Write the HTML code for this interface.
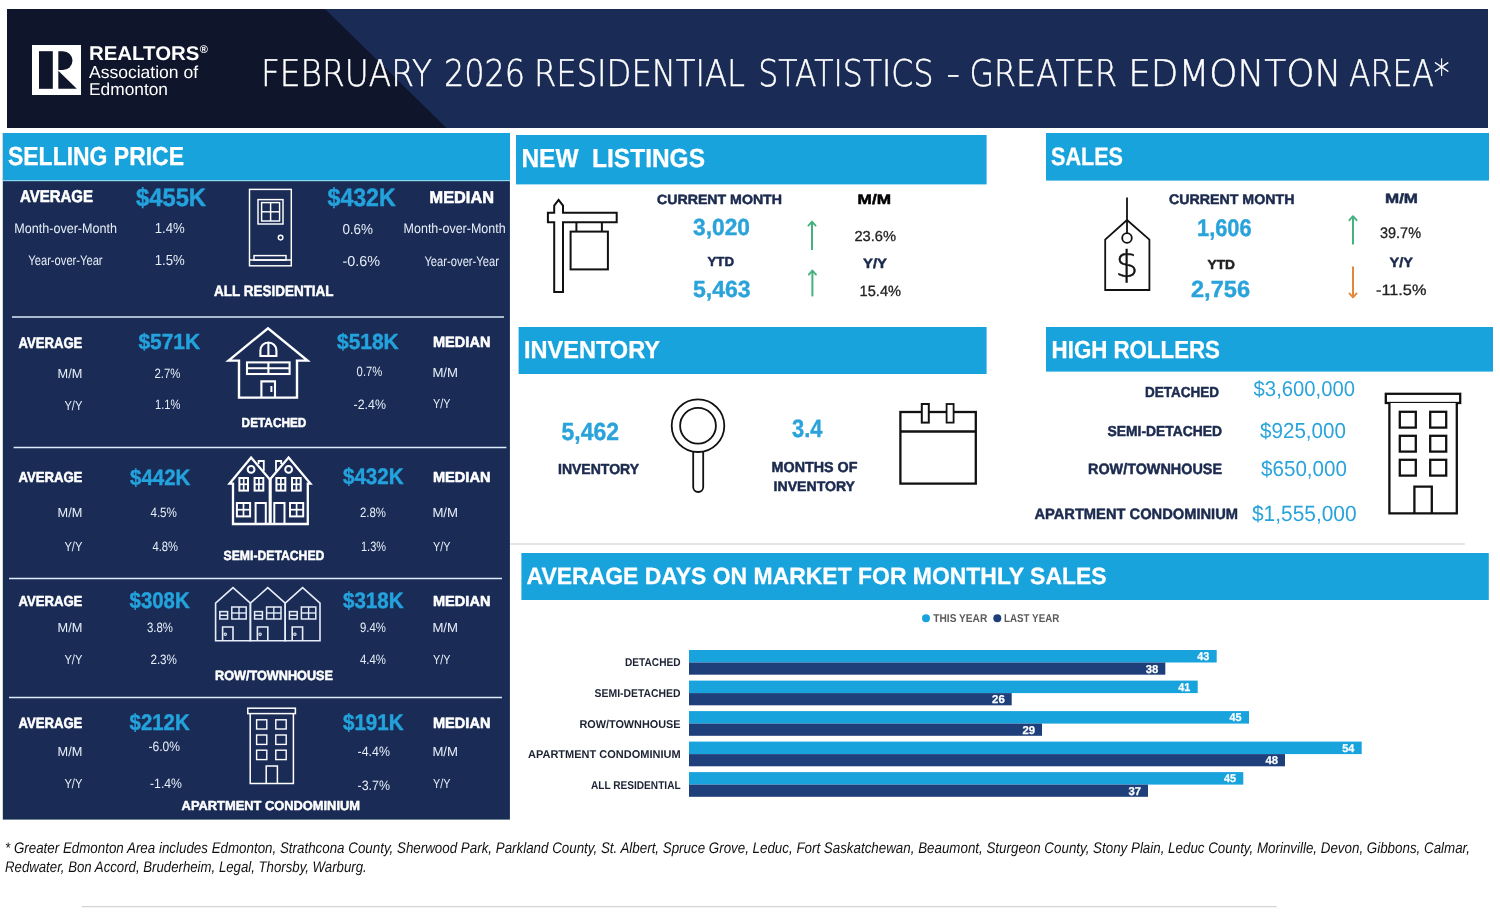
<!DOCTYPE html>
<html lang="en">
<head>
<meta charset="utf-8">
<title>February 2026 Residential Statistics - Greater Edmonton Area</title>
<style>
html,body{margin:0;padding:0;background:#fff;}
body{width:1500px;height:920px;overflow:hidden;font-family:'Liberation Sans',Arial,sans-serif;}
svg{display:block;}
text{white-space:pre;}
</style>
</head>
<body>
<svg width="1500" height="920" viewBox="0 0 1500 920" text-rendering="geometricPrecision">
<rect x="0" y="0" width="1500" height="920" fill="#ffffff"/>
<g id="header">
<rect x="7.0" y="9.0" width="1481.0" height="119.0" fill="#1a2c56"/>
<polygon points="7,9 325,9 446.5,128 7,128" fill="#0f152b"/>
<rect x="32.0" y="45.0" width="49.0" height="50.0" fill="#fff"/>
<rect x="39.0" y="51.2" width="13.8" height="37.6" fill="#0f152b"/>
<path d="M58.3,51.2 H63 A9.5,9.4 0 0 1 63,70 H58.3 Z" fill="#0f152b"/>
<polygon points="58.3,70.8 58.3,88.8 76.8,88.8" fill="#0f152b"/>
<text x="89.0" y="59.5" font-family="'Liberation Sans', Arial, Helvetica, sans-serif" font-size="19.86" font-weight="bold" fill="#fff" textLength="110.4" lengthAdjust="spacingAndGlyphs">REALTORS</text>
<text x="199.8" y="53.4" font-family="'Liberation Sans', Arial, Helvetica, sans-serif" font-size="11" font-weight="bold" fill="#fff">®</text>
<text x="89.0" y="78.0" font-family="'Liberation Sans', Arial, Helvetica, sans-serif" font-size="17.39" font-weight="normal" fill="#fff" textLength="109.0" lengthAdjust="spacingAndGlyphs">Association of</text>
<text x="89.0" y="95.0" font-family="'Liberation Sans', Arial, Helvetica, sans-serif" font-size="17.10" font-weight="normal" fill="#fff" textLength="79.0" lengthAdjust="spacingAndGlyphs">Edmonton</text>
<text y="85.5" font-family="'DejaVu Sans Light', 'DejaVu Sans', 'Liberation Sans', sans-serif" font-size="36.85" font-weight="200" fill="#fff" stroke="#fff" stroke-width="0.45"><tspan x="260.9" textLength="171.1" lengthAdjust="spacingAndGlyphs">FEBRUARY</tspan> <tspan x="443.9" textLength="81.2" lengthAdjust="spacingAndGlyphs">2026</tspan> <tspan x="533.9" textLength="211.1" lengthAdjust="spacingAndGlyphs">RESIDENTIAL</tspan> <tspan x="758.3" textLength="175.1" lengthAdjust="spacingAndGlyphs">STATISTICS</tspan> <tspan x="946.4" textLength="13.5" lengthAdjust="spacingAndGlyphs">-</tspan> <tspan x="969.4" textLength="147.7" lengthAdjust="spacingAndGlyphs">GREATER</tspan> <tspan x="1128.2" textLength="213.0" lengthAdjust="spacingAndGlyphs">EDMONTON</tspan> <tspan x="1349.0" textLength="100.6" lengthAdjust="spacingAndGlyphs">AREA*</tspan></text>
</g>
<g id="selling">
<rect x="2.8" y="133.0" width="507.1" height="686.6" fill="#123450"/>
<rect x="3.6" y="181.4" width="505.6" height="637.4" fill="#1a2c56"/>
<rect x="3.0" y="133.0" width="507.0" height="48.2" fill="#8fd6f1"/>
<rect x="3.0" y="133.0" width="507.0" height="47.0" fill="#18a3dd"/>
<text x="8.0" y="164.7" font-family="'Liberation Sans', Arial, Helvetica, sans-serif" font-size="26.09" font-weight="bold" fill="#fff" textLength="176.0" lengthAdjust="spacingAndGlyphs" stroke="#fff" stroke-width="0.3" stroke-linejoin="round">SELLING PRICE</text>
<line x1="12.0" y1="317.0" x2="504.0" y2="317.0" stroke="#dcebf9" stroke-width="1.5"/>
<line x1="13.6" y1="447.6" x2="506.4" y2="447.6" stroke="#dcebf9" stroke-width="1.5"/>
<line x1="9.0" y1="578.4" x2="502.0" y2="578.4" stroke="#dcebf9" stroke-width="1.5"/>
<line x1="9.0" y1="697.4" x2="502.0" y2="697.4" stroke="#dcebf9" stroke-width="1.5"/>
<text x="20.0" y="202.2" font-family="'Liberation Sans', Arial, Helvetica, sans-serif" font-size="17.10" font-weight="bold" fill="#fff" textLength="73.0" lengthAdjust="spacingAndGlyphs" stroke="#fff" stroke-width="0.6" stroke-linejoin="round">AVERAGE</text>
<text x="136.0" y="205.6" font-family="'Liberation Sans', Arial, Helvetica, sans-serif" font-size="25.22" font-weight="bold" fill="#24a2dc" textLength="70.0" lengthAdjust="spacingAndGlyphs" stroke="#24a2dc" stroke-width="0.5" stroke-linejoin="round">$455K</text>
<text x="14.3" y="232.6" font-family="'Liberation Sans', Arial, Helvetica, sans-serif" font-size="13.91" font-weight="normal" fill="#e8eef8" textLength="102.7" lengthAdjust="spacingAndGlyphs">Month-over-Month</text>
<text x="154.8" y="232.6" font-family="'Liberation Sans', Arial, Helvetica, sans-serif" font-size="14.49" font-weight="normal" fill="#e8eef8" textLength="30.0" lengthAdjust="spacingAndGlyphs">1.4%</text>
<text x="28.3" y="265.2" font-family="'Liberation Sans', Arial, Helvetica, sans-serif" font-size="13.91" font-weight="normal" fill="#e8eef8" textLength="74.3" lengthAdjust="spacingAndGlyphs">Year-over-Year</text>
<text x="154.8" y="265.2" font-family="'Liberation Sans', Arial, Helvetica, sans-serif" font-size="14.49" font-weight="normal" fill="#e8eef8" textLength="30.0" lengthAdjust="spacingAndGlyphs">1.5%</text>
<text x="327.6" y="205.6" font-family="'Liberation Sans', Arial, Helvetica, sans-serif" font-size="25.22" font-weight="bold" fill="#24a2dc" textLength="68.0" lengthAdjust="spacingAndGlyphs" stroke="#24a2dc" stroke-width="0.5" stroke-linejoin="round">$432K</text>
<text x="429.6" y="203.0" font-family="'Liberation Sans', Arial, Helvetica, sans-serif" font-size="17.10" font-weight="bold" fill="#fff" textLength="64.4" lengthAdjust="spacingAndGlyphs" stroke="#fff" stroke-width="0.6" stroke-linejoin="round">MEDIAN</text>
<text x="342.4" y="234.0" font-family="'Liberation Sans', Arial, Helvetica, sans-serif" font-size="14.49" font-weight="normal" fill="#e8eef8" textLength="30.6" lengthAdjust="spacingAndGlyphs">0.6%</text>
<text x="403.6" y="233.0" font-family="'Liberation Sans', Arial, Helvetica, sans-serif" font-size="13.91" font-weight="normal" fill="#e8eef8" textLength="102.0" lengthAdjust="spacingAndGlyphs">Month-over-Month</text>
<text x="342.4" y="266.4" font-family="'Liberation Sans', Arial, Helvetica, sans-serif" font-size="14.49" font-weight="normal" fill="#e8eef8" textLength="37.6" lengthAdjust="spacingAndGlyphs">-0.6%</text>
<text x="424.4" y="265.6" font-family="'Liberation Sans', Arial, Helvetica, sans-serif" font-size="13.91" font-weight="normal" fill="#e8eef8" textLength="74.6" lengthAdjust="spacingAndGlyphs">Year-over-Year</text>
<text x="214.0" y="296.0" font-family="'Liberation Sans', Arial, Helvetica, sans-serif" font-size="15.07" font-weight="bold" fill="#fff" textLength="119.6" lengthAdjust="spacingAndGlyphs" stroke="#fff" stroke-width="0.5" stroke-linejoin="round">ALL RESIDENTIAL</text>
<text x="18.4" y="348.0" font-family="'Liberation Sans', Arial, Helvetica, sans-serif" font-size="15.07" font-weight="bold" fill="#fff" textLength="64.0" lengthAdjust="spacingAndGlyphs" stroke="#fff" stroke-width="0.55" stroke-linejoin="round">AVERAGE</text>
<text x="138.4" y="349.0" font-family="'Liberation Sans', Arial, Helvetica, sans-serif" font-size="21.74" font-weight="bold" fill="#24a2dc" textLength="61.6" lengthAdjust="spacingAndGlyphs" stroke="#24a2dc" stroke-width="0.45" stroke-linejoin="round">$571K</text>
<text x="57.6" y="378.4" font-family="'Liberation Sans', Arial, Helvetica, sans-serif" font-size="13.04" font-weight="normal" fill="#e8eef8" textLength="24.8" lengthAdjust="spacingAndGlyphs">M/M</text>
<text x="154.4" y="378.0" font-family="'Liberation Sans', Arial, Helvetica, sans-serif" font-size="13.62" font-weight="normal" fill="#e8eef8" textLength="26.0" lengthAdjust="spacingAndGlyphs">2.7%</text>
<text x="64.4" y="409.6" font-family="'Liberation Sans', Arial, Helvetica, sans-serif" font-size="13.04" font-weight="normal" fill="#e8eef8" textLength="18.0" lengthAdjust="spacingAndGlyphs">Y/Y</text>
<text x="155.0" y="409.0" font-family="'Liberation Sans', Arial, Helvetica, sans-serif" font-size="13.62" font-weight="normal" fill="#e8eef8" textLength="25.4" lengthAdjust="spacingAndGlyphs">1.1%</text>
<text x="337.0" y="349.0" font-family="'Liberation Sans', Arial, Helvetica, sans-serif" font-size="21.74" font-weight="bold" fill="#24a2dc" textLength="61.6" lengthAdjust="spacingAndGlyphs" stroke="#24a2dc" stroke-width="0.45" stroke-linejoin="round">$518K</text>
<text x="433.0" y="347.2" font-family="'Liberation Sans', Arial, Helvetica, sans-serif" font-size="14.78" font-weight="bold" fill="#fff" textLength="57.4" lengthAdjust="spacingAndGlyphs" stroke="#fff" stroke-width="0.55" stroke-linejoin="round">MEDIAN</text>
<text x="356.6" y="376.0" font-family="'Liberation Sans', Arial, Helvetica, sans-serif" font-size="13.62" font-weight="normal" fill="#e8eef8" textLength="25.8" lengthAdjust="spacingAndGlyphs">0.7%</text>
<text x="432.4" y="377.0" font-family="'Liberation Sans', Arial, Helvetica, sans-serif" font-size="13.04" font-weight="normal" fill="#e8eef8" textLength="25.6" lengthAdjust="spacingAndGlyphs">M/M</text>
<text x="353.6" y="408.6" font-family="'Liberation Sans', Arial, Helvetica, sans-serif" font-size="13.62" font-weight="normal" fill="#e8eef8" textLength="32.4" lengthAdjust="spacingAndGlyphs">-2.4%</text>
<text x="433.0" y="407.6" font-family="'Liberation Sans', Arial, Helvetica, sans-serif" font-size="13.04" font-weight="normal" fill="#e8eef8" textLength="17.4" lengthAdjust="spacingAndGlyphs">Y/Y</text>
<text x="241.6" y="426.6" font-family="'Liberation Sans', Arial, Helvetica, sans-serif" font-size="13.04" font-weight="bold" fill="#fff" textLength="64.8" lengthAdjust="spacingAndGlyphs" stroke="#fff" stroke-width="0.5" stroke-linejoin="round">DETACHED</text>
<text x="18.4" y="482.0" font-family="'Liberation Sans', Arial, Helvetica, sans-serif" font-size="14.49" font-weight="bold" fill="#fff" textLength="64.0" lengthAdjust="spacingAndGlyphs" stroke="#fff" stroke-width="0.55" stroke-linejoin="round">AVERAGE</text>
<text x="130.0" y="485.0" font-family="'Liberation Sans', Arial, Helvetica, sans-serif" font-size="22.32" font-weight="bold" fill="#24a2dc" textLength="60.4" lengthAdjust="spacingAndGlyphs" stroke="#24a2dc" stroke-width="0.45" stroke-linejoin="round">$442K</text>
<text x="57.6" y="517.0" font-family="'Liberation Sans', Arial, Helvetica, sans-serif" font-size="13.04" font-weight="normal" fill="#e8eef8" textLength="24.8" lengthAdjust="spacingAndGlyphs">M/M</text>
<text x="150.4" y="517.0" font-family="'Liberation Sans', Arial, Helvetica, sans-serif" font-size="13.62" font-weight="normal" fill="#e8eef8" textLength="26.6" lengthAdjust="spacingAndGlyphs">4.5%</text>
<text x="64.4" y="551.0" font-family="'Liberation Sans', Arial, Helvetica, sans-serif" font-size="13.04" font-weight="normal" fill="#e8eef8" textLength="18.0" lengthAdjust="spacingAndGlyphs">Y/Y</text>
<text x="152.4" y="551.0" font-family="'Liberation Sans', Arial, Helvetica, sans-serif" font-size="13.62" font-weight="normal" fill="#e8eef8" textLength="25.6" lengthAdjust="spacingAndGlyphs">4.8%</text>
<text x="343.0" y="483.6" font-family="'Liberation Sans', Arial, Helvetica, sans-serif" font-size="22.61" font-weight="bold" fill="#24a2dc" textLength="60.6" lengthAdjust="spacingAndGlyphs" stroke="#24a2dc" stroke-width="0.45" stroke-linejoin="round">$432K</text>
<text x="433.0" y="482.0" font-family="'Liberation Sans', Arial, Helvetica, sans-serif" font-size="14.49" font-weight="bold" fill="#fff" textLength="57.4" lengthAdjust="spacingAndGlyphs" stroke="#fff" stroke-width="0.55" stroke-linejoin="round">MEDIAN</text>
<text x="360.0" y="517.0" font-family="'Liberation Sans', Arial, Helvetica, sans-serif" font-size="13.62" font-weight="normal" fill="#e8eef8" textLength="26.0" lengthAdjust="spacingAndGlyphs">2.8%</text>
<text x="432.4" y="517.0" font-family="'Liberation Sans', Arial, Helvetica, sans-serif" font-size="13.04" font-weight="normal" fill="#e8eef8" textLength="25.6" lengthAdjust="spacingAndGlyphs">M/M</text>
<text x="361.0" y="551.0" font-family="'Liberation Sans', Arial, Helvetica, sans-serif" font-size="13.62" font-weight="normal" fill="#e8eef8" textLength="25.0" lengthAdjust="spacingAndGlyphs">1.3%</text>
<text x="433.0" y="551.0" font-family="'Liberation Sans', Arial, Helvetica, sans-serif" font-size="13.04" font-weight="normal" fill="#e8eef8" textLength="17.4" lengthAdjust="spacingAndGlyphs">Y/Y</text>
<text x="223.6" y="559.8" font-family="'Liberation Sans', Arial, Helvetica, sans-serif" font-size="13.33" font-weight="bold" fill="#fff" textLength="100.8" lengthAdjust="spacingAndGlyphs" stroke="#fff" stroke-width="0.5" stroke-linejoin="round">SEMI-DETACHED</text>
<text x="18.4" y="606.0" font-family="'Liberation Sans', Arial, Helvetica, sans-serif" font-size="14.49" font-weight="bold" fill="#fff" textLength="64.0" lengthAdjust="spacingAndGlyphs" stroke="#fff" stroke-width="0.55" stroke-linejoin="round">AVERAGE</text>
<text x="129.6" y="607.6" font-family="'Liberation Sans', Arial, Helvetica, sans-serif" font-size="22.61" font-weight="bold" fill="#24a2dc" textLength="60.0" lengthAdjust="spacingAndGlyphs" stroke="#24a2dc" stroke-width="0.45" stroke-linejoin="round">$308K</text>
<text x="57.6" y="632.4" font-family="'Liberation Sans', Arial, Helvetica, sans-serif" font-size="13.04" font-weight="normal" fill="#e8eef8" textLength="24.8" lengthAdjust="spacingAndGlyphs">M/M</text>
<text x="147.0" y="632.4" font-family="'Liberation Sans', Arial, Helvetica, sans-serif" font-size="13.62" font-weight="normal" fill="#e8eef8" textLength="26.0" lengthAdjust="spacingAndGlyphs">3.8%</text>
<text x="64.4" y="664.0" font-family="'Liberation Sans', Arial, Helvetica, sans-serif" font-size="13.04" font-weight="normal" fill="#e8eef8" textLength="18.0" lengthAdjust="spacingAndGlyphs">Y/Y</text>
<text x="150.4" y="664.4" font-family="'Liberation Sans', Arial, Helvetica, sans-serif" font-size="13.62" font-weight="normal" fill="#e8eef8" textLength="26.6" lengthAdjust="spacingAndGlyphs">2.3%</text>
<text x="343.0" y="608.4" font-family="'Liberation Sans', Arial, Helvetica, sans-serif" font-size="22.32" font-weight="bold" fill="#24a2dc" textLength="60.6" lengthAdjust="spacingAndGlyphs" stroke="#24a2dc" stroke-width="0.45" stroke-linejoin="round">$318K</text>
<text x="433.0" y="606.0" font-family="'Liberation Sans', Arial, Helvetica, sans-serif" font-size="14.49" font-weight="bold" fill="#fff" textLength="57.4" lengthAdjust="spacingAndGlyphs" stroke="#fff" stroke-width="0.55" stroke-linejoin="round">MEDIAN</text>
<text x="360.0" y="632.4" font-family="'Liberation Sans', Arial, Helvetica, sans-serif" font-size="13.62" font-weight="normal" fill="#e8eef8" textLength="26.0" lengthAdjust="spacingAndGlyphs">9.4%</text>
<text x="432.4" y="632.4" font-family="'Liberation Sans', Arial, Helvetica, sans-serif" font-size="13.04" font-weight="normal" fill="#e8eef8" textLength="25.6" lengthAdjust="spacingAndGlyphs">M/M</text>
<text x="360.0" y="664.0" font-family="'Liberation Sans', Arial, Helvetica, sans-serif" font-size="13.62" font-weight="normal" fill="#e8eef8" textLength="26.0" lengthAdjust="spacingAndGlyphs">4.4%</text>
<text x="433.0" y="664.0" font-family="'Liberation Sans', Arial, Helvetica, sans-serif" font-size="13.04" font-weight="normal" fill="#e8eef8" textLength="17.4" lengthAdjust="spacingAndGlyphs">Y/Y</text>
<text x="215.0" y="680.0" font-family="'Liberation Sans', Arial, Helvetica, sans-serif" font-size="13.33" font-weight="bold" fill="#fff" textLength="118.0" lengthAdjust="spacingAndGlyphs" stroke="#fff" stroke-width="0.5" stroke-linejoin="round">ROW/TOWNHOUSE</text>
<text x="18.4" y="728.2" font-family="'Liberation Sans', Arial, Helvetica, sans-serif" font-size="14.78" font-weight="bold" fill="#fff" textLength="64.0" lengthAdjust="spacingAndGlyphs" stroke="#fff" stroke-width="0.55" stroke-linejoin="round">AVERAGE</text>
<text x="129.6" y="729.6" font-family="'Liberation Sans', Arial, Helvetica, sans-serif" font-size="22.61" font-weight="bold" fill="#24a2dc" textLength="60.0" lengthAdjust="spacingAndGlyphs" stroke="#24a2dc" stroke-width="0.45" stroke-linejoin="round">$212K</text>
<text x="57.6" y="756.0" font-family="'Liberation Sans', Arial, Helvetica, sans-serif" font-size="13.04" font-weight="normal" fill="#e8eef8" textLength="24.8" lengthAdjust="spacingAndGlyphs">M/M</text>
<text x="148.4" y="751.0" font-family="'Liberation Sans', Arial, Helvetica, sans-serif" font-size="13.62" font-weight="normal" fill="#e8eef8" textLength="31.6" lengthAdjust="spacingAndGlyphs">-6.0%</text>
<text x="64.4" y="788.4" font-family="'Liberation Sans', Arial, Helvetica, sans-serif" font-size="13.04" font-weight="normal" fill="#e8eef8" textLength="18.0" lengthAdjust="spacingAndGlyphs">Y/Y</text>
<text x="150.0" y="788.0" font-family="'Liberation Sans', Arial, Helvetica, sans-serif" font-size="13.62" font-weight="normal" fill="#e8eef8" textLength="32.0" lengthAdjust="spacingAndGlyphs">-1.4%</text>
<text x="343.0" y="729.6" font-family="'Liberation Sans', Arial, Helvetica, sans-serif" font-size="22.61" font-weight="bold" fill="#24a2dc" textLength="60.6" lengthAdjust="spacingAndGlyphs" stroke="#24a2dc" stroke-width="0.45" stroke-linejoin="round">$191K</text>
<text x="433.0" y="728.2" font-family="'Liberation Sans', Arial, Helvetica, sans-serif" font-size="14.78" font-weight="bold" fill="#fff" textLength="57.4" lengthAdjust="spacingAndGlyphs" stroke="#fff" stroke-width="0.55" stroke-linejoin="round">MEDIAN</text>
<text x="357.6" y="755.6" font-family="'Liberation Sans', Arial, Helvetica, sans-serif" font-size="13.62" font-weight="normal" fill="#e8eef8" textLength="32.4" lengthAdjust="spacingAndGlyphs">-4.4%</text>
<text x="432.4" y="756.0" font-family="'Liberation Sans', Arial, Helvetica, sans-serif" font-size="13.04" font-weight="normal" fill="#e8eef8" textLength="25.6" lengthAdjust="spacingAndGlyphs">M/M</text>
<text x="357.6" y="789.6" font-family="'Liberation Sans', Arial, Helvetica, sans-serif" font-size="13.62" font-weight="normal" fill="#e8eef8" textLength="32.4" lengthAdjust="spacingAndGlyphs">-3.7%</text>
<text x="433.0" y="787.6" font-family="'Liberation Sans', Arial, Helvetica, sans-serif" font-size="13.04" font-weight="normal" fill="#e8eef8" textLength="17.4" lengthAdjust="spacingAndGlyphs">Y/Y</text>
<text x="181.6" y="810.4" font-family="'Liberation Sans', Arial, Helvetica, sans-serif" font-size="13.04" font-weight="bold" fill="#fff" textLength="178.4" lengthAdjust="spacingAndGlyphs" stroke="#fff" stroke-width="0.5" stroke-linejoin="round">APARTMENT CONDOMINIUM</text>
<g id="icon-door">
<rect x="249.5" y="189.4" width="41.8" height="76.4" fill="none" stroke="#ffffff" stroke-width="1.45"/>
<line x1="249.5" y1="260.0" x2="291.3" y2="260.0" stroke="#ffffff" stroke-width="1.45"/>
<rect x="254.0" y="255.6" width="32.0" height="4.4" fill="none" stroke="#ffffff" stroke-width="1.45"/>
<rect x="258.0" y="199.6" width="25.0" height="24.4" fill="none" stroke="#ffffff" stroke-width="1.45"/>
<rect x="261.6" y="202.6" width="18.0" height="18.4" fill="none" stroke="#ffffff" stroke-width="1.45"/>
<line x1="270.6" y1="202.6" x2="270.6" y2="221.0" stroke="#ffffff" stroke-width="1.45"/>
<line x1="261.6" y1="211.8" x2="279.6" y2="211.8" stroke="#ffffff" stroke-width="1.45"/>
<circle cx="280.6" cy="237.6" r="2.3" fill="none" stroke="#ffffff" stroke-width="1.45"/>
</g>
<g id="icon-detached">
<path d="M228.5,360.6 L268,328.2 L307.5,360.6 H297 V397.6 H239 V360.6 Z" fill="none" stroke="#ffffff" stroke-width="2.4" stroke-linejoin="miter"/>
<path d="M260.4,356 V350.5 A8,8 0 0 1 276.4,350.5 V356 Z" fill="none" stroke="#ffffff" stroke-width="2.1"/>
<line x1="268.4" y1="343.0" x2="268.4" y2="356.0" stroke="#ffffff" stroke-width="2.1"/>
<rect x="247.0" y="362.4" width="42.6" height="11.6" fill="none" stroke="#ffffff" stroke-width="2.1"/>
<line x1="247.0" y1="368.2" x2="289.6" y2="368.2" stroke="#ffffff" stroke-width="2.1"/>
<line x1="268.4" y1="362.4" x2="268.4" y2="374.0" stroke="#ffffff" stroke-width="2.1"/>
<path d="M261.4,397.6 V381.4 H275 V397.6" fill="none" stroke="#ffffff" stroke-width="2.1"/>
<line x1="271.4" y1="386.0" x2="271.4" y2="392.0" stroke="#ffffff" stroke-width="2"/>
</g>
<g id="icon-semi">
<path d="M229.6,483.6 L251.1,457.6 L269.9,479.4 L288.6,457.6 L310.4,483.6 H307.8 V524 H233 V483.6 Z" fill="none" stroke="#ffffff" stroke-width="2.3"/>
<line x1="270.2" y1="479.0" x2="270.2" y2="524.0" stroke="#ffffff" stroke-width="3.1"/>
<path d="M258.6,464 V461 H263.8 V471" fill="none" stroke="#ffffff" stroke-width="1.8"/>
<path d="M281.2,464 V461 H276 V471" fill="none" stroke="#ffffff" stroke-width="1.8"/>
<circle cx="251.1" cy="469.4" r="3.4" fill="none" stroke="#ffffff" stroke-width="2"/>
<circle cx="288.6" cy="469.4" r="3.4" fill="none" stroke="#ffffff" stroke-width="2"/>
<rect x="239.4" y="478.0" width="8.6" height="12.6" fill="none" stroke="#ffffff" stroke-width="2"/>
<line x1="243.7" y1="478.0" x2="243.7" y2="490.6" stroke="#ffffff" stroke-width="1.7"/>
<line x1="239.4" y1="484.3" x2="248.0" y2="484.3" stroke="#ffffff" stroke-width="1.7"/>
<rect x="254.6" y="478.0" width="8.7" height="12.6" fill="none" stroke="#ffffff" stroke-width="2"/>
<line x1="258.9" y1="478.0" x2="258.9" y2="490.6" stroke="#ffffff" stroke-width="1.7"/>
<line x1="254.6" y1="484.3" x2="263.3" y2="484.3" stroke="#ffffff" stroke-width="1.7"/>
<rect x="276.4" y="478.0" width="8.9" height="12.6" fill="none" stroke="#ffffff" stroke-width="2"/>
<line x1="280.9" y1="478.0" x2="280.9" y2="490.6" stroke="#ffffff" stroke-width="1.7"/>
<line x1="276.4" y1="484.3" x2="285.3" y2="484.3" stroke="#ffffff" stroke-width="1.7"/>
<rect x="292.0" y="478.0" width="8.7" height="12.6" fill="none" stroke="#ffffff" stroke-width="2"/>
<line x1="296.4" y1="478.0" x2="296.4" y2="490.6" stroke="#ffffff" stroke-width="1.7"/>
<line x1="292.0" y1="484.3" x2="300.7" y2="484.3" stroke="#ffffff" stroke-width="1.7"/>
<rect x="236.9" y="503.0" width="13.2" height="13.4" fill="none" stroke="#ffffff" stroke-width="2"/>
<line x1="243.5" y1="503.0" x2="243.5" y2="516.4" stroke="#ffffff" stroke-width="1.7"/>
<line x1="236.9" y1="509.7" x2="250.1" y2="509.7" stroke="#ffffff" stroke-width="1.7"/>
<rect x="290.0" y="503.0" width="13.2" height="13.4" fill="none" stroke="#ffffff" stroke-width="2"/>
<line x1="296.6" y1="503.0" x2="296.6" y2="516.4" stroke="#ffffff" stroke-width="1.7"/>
<line x1="290.0" y1="509.7" x2="303.2" y2="509.7" stroke="#ffffff" stroke-width="1.7"/>
<path d="M255.6,524 V503 H265.8 V524" fill="none" stroke="#ffffff" stroke-width="2"/>
<path d="M274.3,524 V503 H284.5 V524" fill="none" stroke="#ffffff" stroke-width="2"/>
</g>
<g id="icon-row">
<path d="M215.6,640.8 V603.2 L233.0,587.6 L250.4,603.2 V640.8 Z" fill="none" stroke="#e6edf8" stroke-width="1.6"/>
<rect x="219.8" y="611.6" width="7.8" height="7.4" fill="none" stroke="#e6edf8" stroke-width="1.5"/>
<line x1="219.8" y1="615.3" x2="227.6" y2="615.3" stroke="#e6edf8" stroke-width="1.4"/>
<rect x="231.8" y="607.0" width="14.4" height="12.0" fill="none" stroke="#e6edf8" stroke-width="1.5"/>
<line x1="239.0" y1="607.0" x2="239.0" y2="619.0" stroke="#e6edf8" stroke-width="1.4"/>
<line x1="231.8" y1="613.0" x2="246.2" y2="613.0" stroke="#e6edf8" stroke-width="1.4"/>
<path d="M222.6,640.8 V627 H233.0 V640.8" fill="none" stroke="#e6edf8" stroke-width="1.6"/>
<circle cx="225.3" cy="634.2" r="1.2" fill="none" stroke="#e6edf8" stroke-width="1.1"/>
<path d="M250.4,640.8 V603.2 L267.8,587.6 L285.2,603.2 V640.8 Z" fill="none" stroke="#e6edf8" stroke-width="1.6"/>
<rect x="254.6" y="611.6" width="7.8" height="7.4" fill="none" stroke="#e6edf8" stroke-width="1.5"/>
<line x1="254.6" y1="615.3" x2="262.4" y2="615.3" stroke="#e6edf8" stroke-width="1.4"/>
<rect x="266.6" y="607.0" width="14.4" height="12.0" fill="none" stroke="#e6edf8" stroke-width="1.5"/>
<line x1="273.8" y1="607.0" x2="273.8" y2="619.0" stroke="#e6edf8" stroke-width="1.4"/>
<line x1="266.6" y1="613.0" x2="281.0" y2="613.0" stroke="#e6edf8" stroke-width="1.4"/>
<path d="M257.4,640.8 V627 H267.8 V640.8" fill="none" stroke="#e6edf8" stroke-width="1.6"/>
<circle cx="260.1" cy="634.2" r="1.2" fill="none" stroke="#e6edf8" stroke-width="1.1"/>
<path d="M285.2,640.8 V603.2 L302.6,587.6 L320.0,603.2 V640.8 Z" fill="none" stroke="#e6edf8" stroke-width="1.6"/>
<rect x="289.4" y="611.6" width="7.8" height="7.4" fill="none" stroke="#e6edf8" stroke-width="1.5"/>
<line x1="289.4" y1="615.3" x2="297.2" y2="615.3" stroke="#e6edf8" stroke-width="1.4"/>
<rect x="301.4" y="607.0" width="14.4" height="12.0" fill="none" stroke="#e6edf8" stroke-width="1.5"/>
<line x1="308.6" y1="607.0" x2="308.6" y2="619.0" stroke="#e6edf8" stroke-width="1.4"/>
<line x1="301.4" y1="613.0" x2="315.8" y2="613.0" stroke="#e6edf8" stroke-width="1.4"/>
<path d="M292.2,640.8 V627 H302.6 V640.8" fill="none" stroke="#e6edf8" stroke-width="1.6"/>
<circle cx="294.9" cy="634.2" r="1.2" fill="none" stroke="#e6edf8" stroke-width="1.1"/>
</g>
<g id="icon-apt">
<rect x="247.8" y="708.2" width="47.6" height="5.4" fill="none" stroke="#ffffff" stroke-width="1.5"/>
<path d="M250.2,713.6 V783.4 H293.4 V713.6" fill="none" stroke="#ffffff" stroke-width="1.5"/>
<rect x="256.6" y="719.8" width="10.2" height="9.2" fill="none" stroke="#ffffff" stroke-width="1.4"/>
<rect x="256.6" y="735.0" width="10.2" height="9.4" fill="none" stroke="#ffffff" stroke-width="1.4"/>
<rect x="256.6" y="750.2" width="10.2" height="9.4" fill="none" stroke="#ffffff" stroke-width="1.4"/>
<rect x="275.8" y="719.8" width="10.4" height="9.2" fill="none" stroke="#ffffff" stroke-width="1.4"/>
<rect x="275.8" y="735.0" width="10.4" height="9.4" fill="none" stroke="#ffffff" stroke-width="1.4"/>
<rect x="275.8" y="750.2" width="10.4" height="9.4" fill="none" stroke="#ffffff" stroke-width="1.4"/>
<path d="M266.2,783.4 V766 H277.4 V783.4" fill="none" stroke="#ffffff" stroke-width="1.5"/>
</g>
</g>
<g id="new-listings">
<rect x="516.0" y="135.0" width="470.6" height="49.4" fill="#18a3dd"/>
<text x="521.4" y="167.0" font-family="'Liberation Sans', Arial, Helvetica, sans-serif" font-size="26.09" font-weight="bold" fill="#fff" textLength="183.6" lengthAdjust="spacingAndGlyphs" stroke="#fff" stroke-width="0.3" stroke-linejoin="round">NEW  LISTINGS</text>
<path d="M554.2,292 V222.3 H547.9 V212.8 H554.2 V205.6 L558.6,199.8 L563,205.6 V212.8 H616.7 V222.3 H563 V292 Z" fill="#fff" stroke="#111111" stroke-width="2"/>
<line x1="576.4" y1="222.3" x2="576.4" y2="231.6" stroke="#111111" stroke-width="2"/>
<line x1="601.9" y1="222.3" x2="601.9" y2="231.6" stroke="#111111" stroke-width="2"/>
<rect x="570.6" y="231.6" width="37.3" height="37.8" fill="#fff" stroke="#111111" stroke-width="2"/>
<text x="657.0" y="203.6" font-family="'Liberation Sans', Arial, Helvetica, sans-serif" font-size="13.33" font-weight="bold" fill="#1b2a4e" textLength="125.0" lengthAdjust="spacingAndGlyphs" stroke="#1b2a4e" stroke-width="0.5" stroke-linejoin="round">CURRENT MONTH</text>
<text x="693.0" y="235.0" font-family="'Liberation Sans', Arial, Helvetica, sans-serif" font-size="23.19" font-weight="bold" fill="#2aa3da" textLength="57.0" lengthAdjust="spacingAndGlyphs" stroke="#2aa3da" stroke-width="0.4" stroke-linejoin="round">3,020</text>
<text x="707.4" y="266.4" font-family="'Liberation Sans', Arial, Helvetica, sans-serif" font-size="13.04" font-weight="bold" fill="#1b2a4e" textLength="26.6" lengthAdjust="spacingAndGlyphs" stroke="#1b2a4e" stroke-width="0.5" stroke-linejoin="round">YTD</text>
<text x="693.0" y="297.0" font-family="'Liberation Sans', Arial, Helvetica, sans-serif" font-size="23.19" font-weight="bold" fill="#2aa3da" textLength="57.6" lengthAdjust="spacingAndGlyphs" stroke="#2aa3da" stroke-width="0.4" stroke-linejoin="round">5,463</text>
<text x="857.6" y="204.0" font-family="'Liberation Sans', Arial, Helvetica, sans-serif" font-size="13.91" font-weight="bold" fill="#000" textLength="33.4" lengthAdjust="spacingAndGlyphs" stroke="#000" stroke-width="0.5" stroke-linejoin="round">M/M</text>
<line x1="812.0" y1="221.8" x2="812.0" y2="250.0" stroke="#46b17e" stroke-width="2"/>
<path d="M808.4,225.6 L812.0,221.6 L815.6,225.6" fill="none" stroke="#46b17e" stroke-width="1.9" stroke-linecap="round" stroke-linejoin="round"/>
<text x="854.4" y="241.0" font-family="'Liberation Sans', Arial, Helvetica, sans-serif" font-size="14.49" font-weight="normal" fill="#222" textLength="41.6" lengthAdjust="spacingAndGlyphs" stroke="#222" stroke-width="0.3" stroke-linejoin="round">23.6%</text>
<text x="863.0" y="268.4" font-family="'Liberation Sans', Arial, Helvetica, sans-serif" font-size="13.62" font-weight="bold" fill="#1b2a4e" textLength="24.0" lengthAdjust="spacingAndGlyphs" stroke="#1b2a4e" stroke-width="0.5" stroke-linejoin="round">Y/Y</text>
<line x1="812.4" y1="270.8" x2="812.4" y2="296.4" stroke="#46b17e" stroke-width="2"/>
<path d="M808.8,274.6 L812.4,270.6 L816.0,274.6" fill="none" stroke="#46b17e" stroke-width="1.9" stroke-linecap="round" stroke-linejoin="round"/>
<text x="859.6" y="296.4" font-family="'Liberation Sans', Arial, Helvetica, sans-serif" font-size="14.78" font-weight="normal" fill="#222" textLength="41.4" lengthAdjust="spacingAndGlyphs" stroke="#222" stroke-width="0.3" stroke-linejoin="round">15.4%</text>
</g>
<g id="sales">
<rect x="1046.0" y="133.0" width="443.0" height="47.6" fill="#18a3dd"/>
<text x="1051.0" y="165.0" font-family="'Liberation Sans', Arial, Helvetica, sans-serif" font-size="25.22" font-weight="bold" fill="#fff" textLength="72.0" lengthAdjust="spacingAndGlyphs" stroke="#fff" stroke-width="0.3" stroke-linejoin="round">SALES</text>
<path d="M1127,220 L1149.4,239.6 V290 H1105.2 V239.6 Z" fill="#fff" stroke="#111111" stroke-width="1.8"/>
<line x1="1127.0" y1="197.6" x2="1127.0" y2="233.0" stroke="#111111" stroke-width="1.8"/>
<circle cx="1127.0" cy="238.0" r="4.8" fill="#fff" stroke="#111111" stroke-width="1.8"/>
<text x="1115.6" y="276.9" font-family="'DejaVu Sans Light', 'DejaVu Sans', 'Liberation Sans', sans-serif" font-weight="200" font-size="36.8" fill="#111111" stroke="#111111" stroke-width="0.5" textLength="22.8" lengthAdjust="spacingAndGlyphs">$</text>
<text x="1169.0" y="204.0" font-family="'Liberation Sans', Arial, Helvetica, sans-serif" font-size="13.91" font-weight="bold" fill="#1b2a4e" textLength="125.4" lengthAdjust="spacingAndGlyphs" stroke="#1b2a4e" stroke-width="0.5" stroke-linejoin="round">CURRENT MONTH</text>
<text x="1197.0" y="235.6" font-family="'Liberation Sans', Arial, Helvetica, sans-serif" font-size="24.06" font-weight="bold" fill="#2aa3da" textLength="54.6" lengthAdjust="spacingAndGlyphs" stroke="#2aa3da" stroke-width="0.4" stroke-linejoin="round">1,606</text>
<text x="1207.6" y="269.0" font-family="'Liberation Sans', Arial, Helvetica, sans-serif" font-size="13.04" font-weight="bold" fill="#222" textLength="27.4" lengthAdjust="spacingAndGlyphs" stroke="#222" stroke-width="0.5" stroke-linejoin="round">YTD</text>
<text x="1191.0" y="297.0" font-family="'Liberation Sans', Arial, Helvetica, sans-serif" font-size="23.19" font-weight="bold" fill="#2aa3da" textLength="59.0" lengthAdjust="spacingAndGlyphs" stroke="#2aa3da" stroke-width="0.4" stroke-linejoin="round">2,756</text>
<text x="1385.0" y="203.4" font-family="'Liberation Sans', Arial, Helvetica, sans-serif" font-size="13.62" font-weight="bold" fill="#1b2a4e" textLength="33.0" lengthAdjust="spacingAndGlyphs" stroke="#1b2a4e" stroke-width="0.5" stroke-linejoin="round">M/M</text>
<line x1="1353.0" y1="216.4" x2="1353.0" y2="244.4" stroke="#46b17e" stroke-width="2"/>
<path d="M1349.4,220.2 L1353.0,216.2 L1356.6,220.2" fill="none" stroke="#46b17e" stroke-width="1.9" stroke-linecap="round" stroke-linejoin="round"/>
<text x="1380.0" y="237.6" font-family="'Liberation Sans', Arial, Helvetica, sans-serif" font-size="15.36" font-weight="normal" fill="#222" textLength="41.0" lengthAdjust="spacingAndGlyphs" stroke="#222" stroke-width="0.3" stroke-linejoin="round">39.7%</text>
<text x="1389.6" y="267.0" font-family="'Liberation Sans', Arial, Helvetica, sans-serif" font-size="13.62" font-weight="bold" fill="#1b2a4e" textLength="23.4" lengthAdjust="spacingAndGlyphs" stroke="#1b2a4e" stroke-width="0.5" stroke-linejoin="round">Y/Y</text>
<line x1="1353.0" y1="266.4" x2="1353.0" y2="297.2" stroke="#e2873c" stroke-width="2"/>
<path d="M1349.4,293.4 L1353.0,297.4 L1356.6,293.4" fill="none" stroke="#e2873c" stroke-width="1.9" stroke-linecap="round" stroke-linejoin="round"/>
<text x="1376.0" y="295.0" font-family="'Liberation Sans', Arial, Helvetica, sans-serif" font-size="15.07" font-weight="normal" fill="#222" textLength="50.4" lengthAdjust="spacingAndGlyphs" stroke="#222" stroke-width="0.3" stroke-linejoin="round">-11.5%</text>
</g>
<g id="inventory">
<rect x="518.6" y="327.0" width="468.0" height="47.0" fill="#18a3dd"/>
<text x="524.0" y="358.0" font-family="'Liberation Sans', Arial, Helvetica, sans-serif" font-size="24.64" font-weight="bold" fill="#fff" textLength="136.0" lengthAdjust="spacingAndGlyphs" stroke="#fff" stroke-width="0.3" stroke-linejoin="round">INVENTORY</text>
<text x="561.6" y="440.0" font-family="'Liberation Sans', Arial, Helvetica, sans-serif" font-size="24.64" font-weight="bold" fill="#2aa3da" textLength="57.4" lengthAdjust="spacingAndGlyphs" stroke="#2aa3da" stroke-width="0.4" stroke-linejoin="round">5,462</text>
<text x="558.0" y="474.4" font-family="'Liberation Sans', Arial, Helvetica, sans-serif" font-size="14.49" font-weight="bold" fill="#1b2a4e" textLength="81.0" lengthAdjust="spacingAndGlyphs" stroke="#1b2a4e" stroke-width="0.5" stroke-linejoin="round">INVENTORY</text>
<path d="M693.2,450 V487 A5,5 0 0 0 703.2,487 V450" fill="#fff" stroke="#111111" stroke-width="1.8"/>
<circle cx="698.0" cy="425.7" r="26.3" fill="#fff" stroke="#111111" stroke-width="1.8"/>
<circle cx="698.0" cy="425.8" r="17.9" fill="#fff" stroke="#111111" stroke-width="1.8"/>
<text x="792.0" y="437.0" font-family="'Liberation Sans', Arial, Helvetica, sans-serif" font-size="25.22" font-weight="bold" fill="#2aa3da" textLength="30.4" lengthAdjust="spacingAndGlyphs" stroke="#2aa3da" stroke-width="0.4" stroke-linejoin="round">3.4</text>
<text x="771.6" y="472.0" font-family="'Liberation Sans', Arial, Helvetica, sans-serif" font-size="14.49" font-weight="bold" fill="#1b2a4e" textLength="85.8" lengthAdjust="spacingAndGlyphs" stroke="#1b2a4e" stroke-width="0.5" stroke-linejoin="round">MONTHS OF</text>
<text x="773.6" y="491.0" font-family="'Liberation Sans', Arial, Helvetica, sans-serif" font-size="13.91" font-weight="bold" fill="#1b2a4e" textLength="81.4" lengthAdjust="spacingAndGlyphs" stroke="#1b2a4e" stroke-width="0.5" stroke-linejoin="round">INVENTORY</text>
<rect x="900.4" y="412.0" width="75.4" height="71.6" fill="#fff" stroke="#111111" stroke-width="2.3"/>
<line x1="900.4" y1="431.5" x2="975.8" y2="431.5" stroke="#111111" stroke-width="2.3"/>
<rect x="921.8" y="404.0" width="7.0" height="18.6" fill="#fff" stroke="#111111" stroke-width="2"/>
<rect x="946.6" y="404.0" width="7.0" height="18.6" fill="#fff" stroke="#111111" stroke-width="1.8"/>
</g>
<g id="high-rollers">
<rect x="1046.0" y="327.0" width="447.0" height="44.6" fill="#18a3dd"/>
<text x="1051.6" y="358.0" font-family="'Liberation Sans', Arial, Helvetica, sans-serif" font-size="24.64" font-weight="bold" fill="#fff" textLength="168.4" lengthAdjust="spacingAndGlyphs" stroke="#fff" stroke-width="0.3" stroke-linejoin="round">HIGH ROLLERS</text>
<text x="1145.0" y="397.0" font-family="'Liberation Sans', Arial, Helvetica, sans-serif" font-size="14.49" font-weight="bold" fill="#1b2a4e" textLength="74.0" lengthAdjust="spacingAndGlyphs" stroke="#1b2a4e" stroke-width="0.5" stroke-linejoin="round">DETACHED</text>
<text x="1107.6" y="435.6" font-family="'Liberation Sans', Arial, Helvetica, sans-serif" font-size="14.49" font-weight="bold" fill="#1b2a4e" textLength="114.4" lengthAdjust="spacingAndGlyphs" stroke="#1b2a4e" stroke-width="0.5" stroke-linejoin="round">SEMI-DETACHED</text>
<text x="1088.0" y="474.0" font-family="'Liberation Sans', Arial, Helvetica, sans-serif" font-size="15.07" font-weight="bold" fill="#1b2a4e" textLength="134.0" lengthAdjust="spacingAndGlyphs" stroke="#1b2a4e" stroke-width="0.5" stroke-linejoin="round">ROW/TOWNHOUSE</text>
<text x="1034.4" y="519.4" font-family="'Liberation Sans', Arial, Helvetica, sans-serif" font-size="15.07" font-weight="bold" fill="#1b2a4e" textLength="203.6" lengthAdjust="spacingAndGlyphs" stroke="#1b2a4e" stroke-width="0.5" stroke-linejoin="round">APARTMENT CONDOMINIUM</text>
<text x="1253.6" y="396.4" font-family="'Liberation Sans', Arial, Helvetica, sans-serif" font-size="21.45" font-weight="normal" fill="#2aa3da" textLength="101.4" lengthAdjust="spacingAndGlyphs">$3,600,000</text>
<text x="1260.0" y="437.6" font-family="'Liberation Sans', Arial, Helvetica, sans-serif" font-size="21.74" font-weight="normal" fill="#2aa3da" textLength="86.0" lengthAdjust="spacingAndGlyphs">$925,000</text>
<text x="1261.0" y="476.0" font-family="'Liberation Sans', Arial, Helvetica, sans-serif" font-size="21.74" font-weight="normal" fill="#2aa3da" textLength="86.0" lengthAdjust="spacingAndGlyphs">$650,000</text>
<text x="1252.0" y="520.6" font-family="'Liberation Sans', Arial, Helvetica, sans-serif" font-size="22.03" font-weight="normal" fill="#2aa3da" textLength="104.6" lengthAdjust="spacingAndGlyphs">$1,555,000</text>
<rect x="1385.8" y="393.8" width="74.4" height="9.2" fill="#fff" stroke="#111111" stroke-width="2.3"/>
<path d="M1389.4,403 V513.4 H1456.8 V403" fill="#fff" stroke="#111111" stroke-width="2.3"/>
<rect x="1399.8" y="411.8" width="16.0" height="15.8" fill="none" stroke="#111111" stroke-width="2.3"/>
<rect x="1399.8" y="435.8" width="16.0" height="15.8" fill="none" stroke="#111111" stroke-width="2.3"/>
<rect x="1399.8" y="459.8" width="16.0" height="15.8" fill="none" stroke="#111111" stroke-width="2.3"/>
<rect x="1430.2" y="411.8" width="16.0" height="15.8" fill="none" stroke="#111111" stroke-width="2.3"/>
<rect x="1430.2" y="435.8" width="16.0" height="15.8" fill="none" stroke="#111111" stroke-width="2.3"/>
<rect x="1430.2" y="459.8" width="16.0" height="15.8" fill="none" stroke="#111111" stroke-width="2.3"/>
<path d="M1414.4,513.4 V486.6 H1431.8 V513.4" fill="none" stroke="#111111" stroke-width="2.3"/>
</g>
<g id="chart">
<line x1="510.0" y1="544.0" x2="1464.8" y2="544.0" stroke="#c9c9c9" stroke-width="1"/>
<rect x="521.4" y="553.0" width="967.4" height="47.0" fill="#18a3dd"/>
<text x="526.6" y="583.6" font-family="'Liberation Sans', Arial, Helvetica, sans-serif" font-size="23.48" font-weight="bold" fill="#fff" textLength="580.0" lengthAdjust="spacingAndGlyphs" stroke="#fff" stroke-width="0.3" stroke-linejoin="round">AVERAGE DAYS ON MARKET FOR MONTHLY SALES</text>
<circle cx="926.0" cy="618.3" r="4.0" fill="#18a3dd"/>
<text x="933.3" y="622.3" font-family="'Liberation Sans', Arial, Helvetica, sans-serif" font-size="11.45" font-weight="bold" fill="#5a5a5a" textLength="54.0" lengthAdjust="spacingAndGlyphs">THIS YEAR</text>
<circle cx="997.3" cy="618.3" r="4.0" fill="#1e3f7a"/>
<text x="1004.0" y="622.3" font-family="'Liberation Sans', Arial, Helvetica, sans-serif" font-size="11.45" font-weight="bold" fill="#5a5a5a" textLength="55.3" lengthAdjust="spacingAndGlyphs">LAST YEAR</text>
<rect x="689.0" y="650.0" width="527.7" height="12.5" fill="#18a3dd"/>
<rect x="689.0" y="662.5" width="476.3" height="12.2" fill="#1e3f7a"/>
<text x="625.0" y="666.4" font-family="'Liberation Sans', Arial, Helvetica, sans-serif" font-size="11.30" font-weight="bold" fill="#1c2233" textLength="55.6" lengthAdjust="spacingAndGlyphs">DETACHED</text>
<text x="1197.3" y="660.0" font-family="'Liberation Sans', Arial, Helvetica, sans-serif" font-size="11.30" font-weight="bold" fill="#fff" textLength="12.0" lengthAdjust="spacingAndGlyphs" stroke="#fff" stroke-width="0.25" stroke-linejoin="round">43</text>
<text x="1145.7" y="672.7" font-family="'Liberation Sans', Arial, Helvetica, sans-serif" font-size="11.45" font-weight="bold" fill="#fff" textLength="12.6" lengthAdjust="spacingAndGlyphs" stroke="#fff" stroke-width="0.25" stroke-linejoin="round">38</text>
<rect x="689.0" y="680.6" width="508.7" height="12.5" fill="#18a3dd"/>
<rect x="689.0" y="693.1" width="322.7" height="12.2" fill="#1e3f7a"/>
<text x="594.6" y="697.0" font-family="'Liberation Sans', Arial, Helvetica, sans-serif" font-size="11.30" font-weight="bold" fill="#1c2233" textLength="86.0" lengthAdjust="spacingAndGlyphs">SEMI-DETACHED</text>
<text x="1178.3" y="690.6" font-family="'Liberation Sans', Arial, Helvetica, sans-serif" font-size="11.30" font-weight="bold" fill="#fff" textLength="12.0" lengthAdjust="spacingAndGlyphs" stroke="#fff" stroke-width="0.25" stroke-linejoin="round">41</text>
<text x="992.1" y="703.3" font-family="'Liberation Sans', Arial, Helvetica, sans-serif" font-size="11.45" font-weight="bold" fill="#fff" textLength="12.6" lengthAdjust="spacingAndGlyphs" stroke="#fff" stroke-width="0.25" stroke-linejoin="round">26</text>
<rect x="689.0" y="711.1" width="560.0" height="12.5" fill="#18a3dd"/>
<rect x="689.0" y="723.6" width="353.0" height="12.2" fill="#1e3f7a"/>
<text x="579.4" y="727.5" font-family="'Liberation Sans', Arial, Helvetica, sans-serif" font-size="11.30" font-weight="bold" fill="#1c2233" textLength="101.2" lengthAdjust="spacingAndGlyphs">ROW/TOWNHOUSE</text>
<text x="1229.6" y="721.1" font-family="'Liberation Sans', Arial, Helvetica, sans-serif" font-size="11.30" font-weight="bold" fill="#fff" textLength="12.0" lengthAdjust="spacingAndGlyphs" stroke="#fff" stroke-width="0.25" stroke-linejoin="round">45</text>
<text x="1022.4" y="733.8" font-family="'Liberation Sans', Arial, Helvetica, sans-serif" font-size="11.45" font-weight="bold" fill="#fff" textLength="12.6" lengthAdjust="spacingAndGlyphs" stroke="#fff" stroke-width="0.25" stroke-linejoin="round">29</text>
<rect x="689.0" y="741.6" width="672.7" height="12.5" fill="#18a3dd"/>
<rect x="689.0" y="754.1" width="596.0" height="12.2" fill="#1e3f7a"/>
<text x="528.0" y="758.0" font-family="'Liberation Sans', Arial, Helvetica, sans-serif" font-size="11.30" font-weight="bold" fill="#1c2233" textLength="152.6" lengthAdjust="spacingAndGlyphs">APARTMENT CONDOMINIUM</text>
<text x="1342.3" y="751.6" font-family="'Liberation Sans', Arial, Helvetica, sans-serif" font-size="11.30" font-weight="bold" fill="#fff" textLength="12.0" lengthAdjust="spacingAndGlyphs" stroke="#fff" stroke-width="0.25" stroke-linejoin="round">54</text>
<text x="1265.4" y="764.3" font-family="'Liberation Sans', Arial, Helvetica, sans-serif" font-size="11.45" font-weight="bold" fill="#fff" textLength="12.6" lengthAdjust="spacingAndGlyphs" stroke="#fff" stroke-width="0.25" stroke-linejoin="round">48</text>
<rect x="689.0" y="772.1" width="554.3" height="12.5" fill="#18a3dd"/>
<rect x="689.0" y="784.6" width="459.0" height="12.2" fill="#1e3f7a"/>
<text x="591.0" y="788.5" font-family="'Liberation Sans', Arial, Helvetica, sans-serif" font-size="11.30" font-weight="bold" fill="#1c2233" textLength="89.6" lengthAdjust="spacingAndGlyphs">ALL RESIDENTIAL</text>
<text x="1223.9" y="782.1" font-family="'Liberation Sans', Arial, Helvetica, sans-serif" font-size="11.30" font-weight="bold" fill="#fff" textLength="12.0" lengthAdjust="spacingAndGlyphs" stroke="#fff" stroke-width="0.25" stroke-linejoin="round">45</text>
<text x="1128.4" y="794.8" font-family="'Liberation Sans', Arial, Helvetica, sans-serif" font-size="11.45" font-weight="bold" fill="#fff" textLength="12.6" lengthAdjust="spacingAndGlyphs" stroke="#fff" stroke-width="0.25" stroke-linejoin="round">37</text>
</g>
<g id="footnote">
<text x="5.0" y="853.2" font-family="'Liberation Sans', Arial, Helvetica, sans-serif" font-size="15.36" font-weight="normal" font-style="italic" fill="#111" textLength="1465.0" lengthAdjust="spacingAndGlyphs">* Greater Edmonton Area includes Edmonton, Strathcona County, Sherwood Park, Parkland County, St. Albert, Spruce Grove, Leduc, Fort Saskatchewan, Beaumont, Sturgeon County, Stony Plain, Leduc County, Morinville, Devon, Gibbons, Calmar,</text>
<text x="5.0" y="872.2" font-family="'Liberation Sans', Arial, Helvetica, sans-serif" font-size="15.36" font-weight="normal" font-style="italic" fill="#111" textLength="361.7" lengthAdjust="spacingAndGlyphs">Redwater, Bon Accord, Bruderheim, Legal, Thorsby, Warburg.</text>
<line x1="81.7" y1="906.7" x2="1276.7" y2="906.7" stroke="#d4d4d4" stroke-width="1.2"/>
</g>
</svg>
</body>
</html>
